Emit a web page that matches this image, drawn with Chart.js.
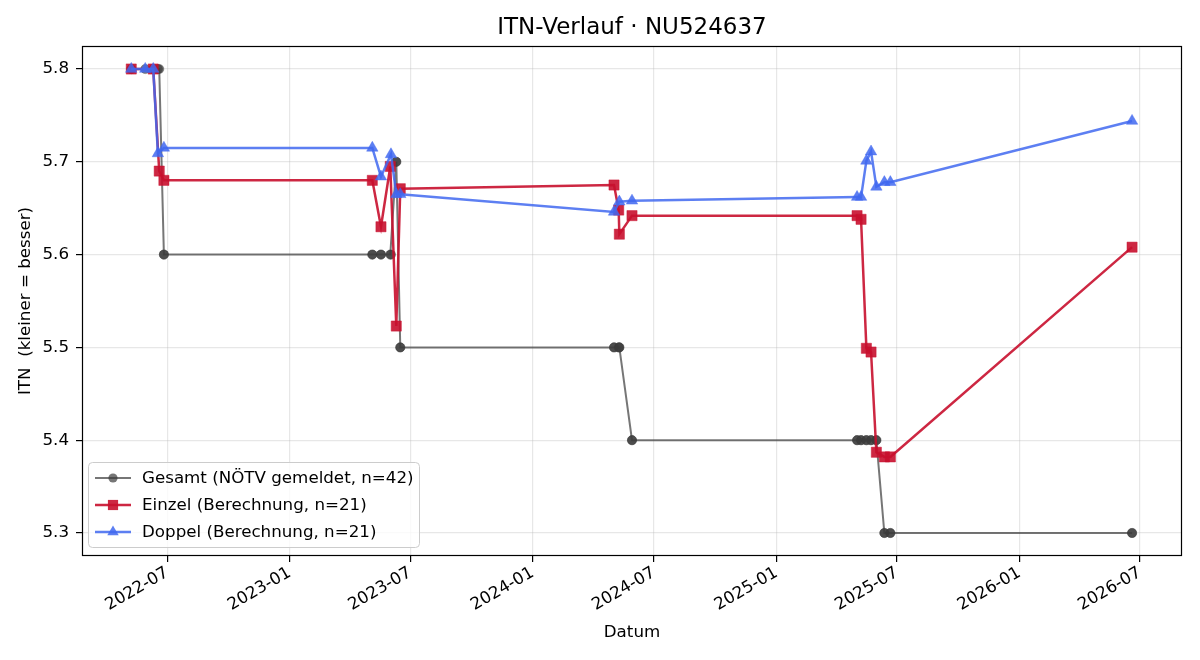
<!DOCTYPE html>
<html>
<head>
<meta charset="utf-8">
<script src="https://cdn.jsdelivr.net/npm/chart.js@4.4.1/dist/chart.umd.min.js"></script>
<style>
  body { margin: 0; background: #fff; }
  #wrap { width: 1200px; height: 660px; }
</style>
</head>
<body>
<div id="wrap"><canvas id="itn" width="1200" height="660"></canvas></div>
<script>
// data
var einzelDates = ['2022-05-08','2022-06-10','2022-06-19','2022-06-26','2023-05-05','2023-05-18','2023-06-01','2023-06-10','2023-06-16',
    '2024-05-02','2024-05-09','2024-05-10','2024-05-29','2025-05-02','2025-05-08','2025-05-16','2025-05-23','2025-05-31','2025-06-12','2025-06-21','2026-06-19'];
var einzelValues = [5.8, 5.8, 5.69, 5.68, 5.68, 5.63, 5.695, 5.523, 5.671,
    5.675, 5.648, 5.622, 5.642, 5.642, 5.638, 5.499, 5.495, 5.387, 5.382, 5.382, 5.608];

var doppelDates = ['2022-05-08','2022-05-29','2022-06-10','2022-06-17','2022-06-26','2023-05-05','2023-05-18','2023-06-02','2023-06-10','2023-06-16',
    '2024-05-02','2024-05-10','2024-05-29','2025-05-02','2025-05-08','2025-05-16','2025-05-23','2025-05-31','2025-06-12','2025-06-21','2026-06-19'];
var doppelValues = [5.8, 5.8, 5.8, 5.709, 5.715, 5.715, 5.684, 5.708, 5.665, 5.665,
    5.646, 5.657, 5.658, 5.662, 5.662, 5.701, 5.711, 5.673, 5.678, 5.678, 5.744];

var gesamtDates = ['2022-05-08','2022-05-08','2022-05-29','2022-06-10','2022-06-10','2022-06-17','2022-06-19','2022-06-26','2022-06-26',
    '2023-05-05','2023-05-05','2023-05-18','2023-05-18','2023-06-01','2023-06-02','2023-06-10','2023-06-10','2023-06-16','2023-06-16',
    '2024-05-02','2024-05-02','2024-05-09','2024-05-10','2024-05-10','2024-05-29','2024-05-29',
    '2025-05-02','2025-05-02','2025-05-08','2025-05-08','2025-05-16','2025-05-16','2025-05-23','2025-05-23','2025-05-31','2025-05-31',
    '2025-06-12','2025-06-12','2025-06-21','2025-06-21','2026-06-19','2026-06-19'];
var gesamtValues = [5.8, 5.8, 5.8, 5.8, 5.8, 5.8, 5.8, 5.6, 5.6,
    5.6, 5.6, 5.6, 5.6, 5.6, 5.6, 5.7, 5.7, 5.5, 5.5,
    5.5, 5.5, 5.5, 5.5, 5.5, 5.4, 5.4,
    5.4, 5.4, 5.4, 5.4, 5.4, 5.4, 5.4, 5.4, 5.4, 5.4,
    5.3, 5.3, 5.3, 5.3, 5.3, 5.3];

var xTickLabels = ['2022-07','2023-01','2023-07','2024-01','2024-07','2025-01','2025-07','2026-01','2026-07'];
var yTickValues = [5.3, 5.4, 5.5, 5.6, 5.7, 5.8];

var chartTitle = 'ITN-Verlauf · NU524637';

function toPoints(dates, values){
    return dates.map(function(d, i){ return {x: Date.parse(d), y: values[i]}; });
}
function monthToMs(label){
    var p = label.split('-');
    return Date.UTC(+p[0], +p[1] - 1, 1);
}
function msToMonth(v){
    var d = new Date(v);
    var m = d.getUTCMonth() + 1;
    return d.getUTCFullYear() + '-' + (m < 10 ? '0' + m : m);
}

var FONT = "'DejaVu Sans', sans-serif";
Chart.defaults.font.family = FONT;
Chart.defaults.font.size = 16.7;
Chart.defaults.color = '#000';

// matplotlib-like box, title over the plot area and legend inside the axes
var framePlugin = {
    id: 'frame',
    afterDraw: function(chart){
        var ctx = chart.ctx, a = chart.chartArea;
        ctx.save();
        ctx.strokeStyle = '#000';
        ctx.lineWidth = 1.2;
        ctx.strokeRect(Math.round(a.left) + 0.5, Math.round(a.top) + 0.5, Math.round(a.right - a.left) - 1, Math.round(a.bottom - a.top) - 1);

        ctx.fillStyle = '#000';
        ctx.font = '23px ' + FONT;
        ctx.textAlign = 'center';
        ctx.textBaseline = 'middle';
        ctx.fillText(chartTitle, (a.left + a.right) / 2, 28);

        // legend
        var bx = 88.5, by = 462.5, bw = 331, bh = 85;
        ctx.fillStyle = 'rgba(255,255,255,0.8)';
        ctx.strokeStyle = '#cccccc';
        ctx.lineWidth = 1;
        ctx.beginPath();
        ctx.roundRect(bx, by, bw, bh, 4);
        ctx.fill();
        ctx.stroke();
        var rowY = [478, 505, 532];
        chart.data.datasets.forEach(function(ds, i){
            var y = rowY[i];
            ctx.strokeStyle = ds.borderColor;
            ctx.lineWidth = ds.borderWidth;
            ctx.beginPath();
            ctx.moveTo(95, y);
            ctx.lineTo(131, y);
            ctx.stroke();
            ctx.fillStyle = ds.pointBackgroundColor;
            ctx.beginPath();
            var r = ds.pointRadius, cx = 113;
            if (ds.pointStyle === 'circle') {
                ctx.arc(cx, y, r, 0, Math.PI * 2);
            } else if (ds.pointStyle === 'rect') {
                var s = r * Math.SQRT1_2;
                ctx.rect(cx - s, y - s, 2 * s, 2 * s);
            } else {
                ctx.moveTo(cx, y - r);
                ctx.lineTo(cx + r * 0.866, y + r * 0.5);
                ctx.lineTo(cx - r * 0.866, y + r * 0.5);
                ctx.closePath();
            }
            ctx.fill();
            ctx.fillStyle = '#000';
            ctx.font = '16.7px ' + FONT;
            ctx.textAlign = 'left';
            ctx.fillText(ds.label, 142, y + 1);
        });
        ctx.restore();
    }
};

var grey = 'rgba(60,60,60,0.7)';
var red = 'rgba(200,16,46,0.9)';
var blue = 'rgba(65,105,240,0.85)';

var itnChart = new Chart(document.getElementById('itn'), {
    type: 'line',
    data: {
        datasets: [{
            label: 'Gesamt (NÖTV gemeldet, n=42)',
            data: toPoints(gesamtDates, gesamtValues),
            borderColor: grey,
            backgroundColor: grey,
            pointBackgroundColor: grey,
            pointBorderColor: grey,
            borderWidth: 2,
            pointStyle: 'circle',
            pointRadius: 4.6,
            pointBorderWidth: 0.5,
            order: 3
        }, {
            label: 'Einzel (Berechnung, n=21)',
            data: toPoints(einzelDates, einzelValues),
            borderColor: red,
            backgroundColor: red,
            pointBackgroundColor: red,
            pointBorderColor: red,
            borderWidth: 2.5,
            pointStyle: 'rect',
            pointRadius: 7.2,
            pointBorderWidth: 0.5,
            order: 2
        }, {
            label: 'Doppel (Berechnung, n=21)',
            data: toPoints(doppelDates, doppelValues),
            borderColor: blue,
            backgroundColor: blue,
            pointBackgroundColor: blue,
            pointBorderColor: blue,
            borderWidth: 2.5,
            pointStyle: 'triangle',
            pointRadius: 6.6,
            pointBorderWidth: 0.5,
            order: 1
        }]
    },
    options: {
        responsive: false,
        animation: false,
        layout: { padding: { left: 0, right: 18, top: 46, bottom: 0 } },
        plugins: {
            legend: { display: false },
            tooltip: { enabled: false },
            title: { display: false }
        },
        scales: {
            x: {
                type: 'linear',
                min: Date.parse('2022-02-23'),
                max: Date.parse('2026-09-02'),
                afterBuildTicks: function(scale){
                    scale.ticks = xTickLabels.map(function(l){ return {value: monthToMs(l)}; });
                },
                afterFit: function(scale){ scale.height = 104; },
                ticks: {
                    maxRotation: 30,
                    minRotation: 30,
                    padding: 1,
                    callback: function(v){ return msToMonth(v); }
                },
                grid: { color: 'rgba(176,176,176,0.3)', tickColor: '#000', tickLength: 6, lineWidth: 1.2 },
                border: { display: false },
                title: { display: true, text: 'Datum', padding: { top: 4, bottom: 17 } }
            },
            y: {
                type: 'linear',
                min: 5.2752,
                max: 5.8248,
                afterBuildTicks: function(scale){
                    scale.ticks = yTickValues.map(function(v){ return {value: v}; });
                },
                afterFit: function(scale){ scale.width = 82; },
                ticks: {
                    padding: 7,
                    callback: function(v){ return v.toFixed(1); }
                },
                grid: { color: 'rgba(176,176,176,0.3)', tickColor: '#000', tickLength: 6, lineWidth: 1.2 },
                border: { display: false },
                title: { display: true, text: 'ITN  (kleiner = besser)', padding: { top: 16, bottom: 4 } }
            }
        }
    },
    plugins: [framePlugin]
});
</script>
</body>
</html>
